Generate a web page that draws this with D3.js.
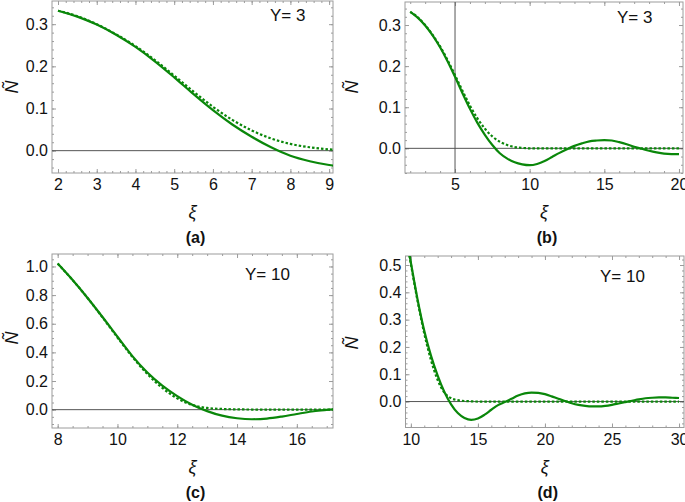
<!DOCTYPE html>
<html>
<head>
<meta charset="utf-8">
<script src="https://cdn.jsdelivr.net/npm/d3@7"></script>
<style>
  body { margin: 0; background: #fff; }
  svg { display: block; }
  text { font-family: "Liberation Sans", Arial, sans-serif; }
</style>
</head>
<body>
<svg id="chart" width="685" height="502"></svg>
<script>
// Y = 3 curves (panels a and b)
const xiY3 = [2, 2.5, 3, 3.5, 4, 4.5, 5, 5.5, 6, 6.5, 7, 7.5, 8, 8.5, 9, 9.5, 10, 10.5, 11, 11.5,
  12, 12.5, 13, 13.5, 14, 14.5, 15, 15.5, 16, 16.5, 17, 17.5, 18, 18.5, 19, 19.5, 20];
const nSolidY3 = [0.332, 0.318, 0.299, 0.275, 0.246, 0.212, 0.174, 0.134, 0.096, 0.062, 0.033, 0.008,
  -0.012, -0.025, -0.034, -0.039, -0.041, -0.038, -0.031, -0.021, -0.011, -0.002, 0.006, 0.012,
  0.017, 0.019, 0.020, 0.019, 0.015, 0.010, 0.004, -0.001, -0.006, -0.010, -0.013, -0.014, -0.014];
const nDashedY3 = [0.332, 0.319, 0.300, 0.276, 0.248, 0.215, 0.178, 0.140, 0.104, 0.073, 0.048, 0.029,
  0.016, 0.008, 0.003, 0.001, 0, 0, 0, 0, 0, 0, 0, 0, 0, 0, 0, 0, 0, 0, 0, 0, 0, 0, 0, 0, 0];

// Y = 10 curves (panels c and d)
const xiY10 = [8, 8.5, 9, 9.5, 10, 10.5, 11, 11.5, 12, 12.5, 13, 13.5, 14, 14.5, 15, 15.5, 16, 16.5,
  17, 17.5, 18, 18.5, 19, 19.5, 20, 20.5, 21, 21.5, 22, 22.5, 23, 23.5, 24, 24.5, 25, 25.5, 26,
  26.5, 27, 27.5, 28, 28.5, 29, 29.5, 30];
const nSolidY10 = [1.02, 0.905, 0.78, 0.647, 0.509, 0.374, 0.259, 0.168, 0.095, 0.035, -0.01, -0.042,
  -0.06, -0.067, -0.062, -0.048, -0.03, -0.013, -0.002, 0.01, 0.022, 0.03, 0.033, 0.032, 0.027,
  0.019, 0.01, 0.002, -0.006, -0.012, -0.016, -0.018, -0.018, -0.016, -0.012, -0.007, -0.002,
  0.003, 0.008, 0.012, 0.014, 0.015, 0.015, 0.014, 0.013];
const nDashedY10 = [1.02, 0.905, 0.78, 0.644, 0.504, 0.368, 0.249, 0.152, 0.079, 0.033, 0.012, 0.005,
  0.002, 0.001, 0, 0, 0, 0, 0, 0, 0, 0, 0, 0, 0, 0, 0, 0, 0, 0, 0, 0, 0, 0, 0, 0, 0, 0, 0, 0, 0,
  0, 0, 0, 0];

// tick values
const xTicksA = [2, 3, 4, 5, 6, 7, 8, 9];
const xTicksB = [5, 10, 15, 20];
const xTicksC = [8, 10, 12, 14, 16];
const xTicksD = [10, 15, 20, 25, 30];
const yTicksAB = [0, 0.1, 0.2, 0.3];
const yTicksC = [0, 0.2, 0.4, 0.6, 0.8, 1.0];
const yTicksD = [0, 0.1, 0.2, 0.3, 0.4, 0.5];

const panelLabels = ['(a)', '(b)', '(c)', '(d)'];
const yLabels = ['Y= 3', 'Y= 3', 'Y= 10', 'Y= 10'];

const svg = d3.select('#chart');
const green = '#0a870a';
const frameColor = '#9c9c9c';

const panels = [
  {xi: xiY3, solid: nSolidY3, dashed: nDashedY3, box: [52, 1, 333, 173],
    xDomain: [1.845, 9.1], yDomain: [-0.053, 0.355], xTicks: xTicksA, xMinor: 0.2,
    yTicks: yTicksAB, yMinor: 0.02, xFmt: d3.format('d'), yLabelAt: [12, 87],
    tagAt: [270, 21], vline: null},
  {xi: xiY3, solid: nSolidY3, dashed: nDashedY3, box: [405, 2, 683, 173],
    xDomain: [1.65, 20.27], yDomain: [-0.060, 0.356], xTicks: xTicksB, xMinor: 1,
    yTicks: yTicksAB, yMinor: 0.02, xFmt: d3.format('d'), yLabelAt: [352, 87],
    tagAt: [617, 23], vline: 5},
  {xi: xiY10, solid: nSolidY10, dashed: nDashedY10, box: [52, 254, 333, 428],
    xDomain: [7.81, 17.21], yDomain: [-0.128, 1.087], xTicks: xTicksC, xMinor: 0.5,
    yTicks: yTicksC, yMinor: 0.05, xFmt: d3.format('d'), yLabelAt: [12, 338],
    tagAt: [245, 280], vline: null},
  {xi: xiY10, solid: nSolidY10, dashed: nDashedY10, box: [405.5, 256, 684, 427.5],
    xDomain: [9.6, 30.37], yDomain: [-0.095, 0.533], xTicks: xTicksD, xMinor: 1,
    yTicks: yTicksD, yMinor: 0.02, xFmt: d3.format('d'), yLabelAt: [352, 343],
    tagAt: [600, 282], vline: null}
];

panels.forEach((p, i) => {
  const [x0, y0, x1, y1] = p.box;
  const x = d3.scaleLinear().domain(p.xDomain).range([x0, x1]);
  const y = d3.scaleLinear().domain(p.yDomain).range([y1, y0]);
  const g = svg.append('g');

  const minorRange = (dom, step) => d3.range(Math.ceil(dom[0] / step) * step, dom[1], step)
    .map((v) => +v.toFixed(4));
  const xMinor = minorRange(p.xDomain, p.xMinor);
  const yMinor = minorRange(p.yDomain, p.yMinor);

  // clip
  g.append('clipPath').attr('id', 'clip' + i)
    .append('rect').attr('x', x0).attr('y', y0).attr('width', x1 - x0).attr('height', y1 - y0);

  const addAxis = (axis, tx, ty) => {
    const a = g.append('g').attr('transform', 'translate(' + tx + ',' + ty + ')').call(axis);
    a.select('.domain').remove();
    a.selectAll('line').attr('stroke', frameColor);
    a.selectAll('text').attr('fill', '#111').style('font-size', '16px');
    return a;
  };
  // minor ticks (inward, all four sides)
  addAxis(d3.axisBottom(x).tickValues(xMinor).tickSizeInner(-2).tickSizeOuter(0).tickFormat(''), 0, y1);
  addAxis(d3.axisTop(x).tickValues(xMinor).tickSizeInner(-2).tickSizeOuter(0).tickFormat(''), 0, y0);
  addAxis(d3.axisLeft(y).tickValues(yMinor).tickSizeInner(-2).tickSizeOuter(0).tickFormat(''), x0, 0);
  addAxis(d3.axisRight(y).tickValues(yMinor).tickSizeInner(-2).tickSizeOuter(0).tickFormat(''), x1, 0);

  // major ticks
  addAxis(d3.axisBottom(x).tickValues(p.xTicks).tickSizeInner(-4).tickSizeOuter(0)
    .tickPadding(6).tickFormat(p.xFmt), 0, y1);
  addAxis(d3.axisTop(x).tickValues(p.xTicks).tickSizeInner(-4).tickSizeOuter(0).tickFormat(''), 0, y0);
  addAxis(d3.axisLeft(y).tickValues(p.yTicks).tickSizeInner(-4).tickSizeOuter(0)
    .tickPadding(4).tickFormat(d3.format('.1f')), x0, 0);
  addAxis(d3.axisRight(y).tickValues(p.yTicks).tickSizeInner(-4).tickSizeOuter(0).tickFormat(''), x1, 0);

  // frame
  g.append('rect')
    .attr('x', x0).attr('y', y0).attr('width', x1 - x0).attr('height', y1 - y0)
    .attr('fill', 'none').attr('stroke', frameColor).attr('stroke-width', 1);

  // zero line
  g.append('line')
    .attr('x1', x0).attr('x2', x1).attr('y1', y(0)).attr('y2', y(0))
    .attr('stroke', '#555').attr('stroke-width', 1);
  if (p.vline !== null) {
    g.append('line')
      .attr('x1', x(p.vline)).attr('x2', x(p.vline)).attr('y1', y0).attr('y2', y1)
      .attr('stroke', '#555').attr('stroke-width', 1);
  }

  const pts = (vals) => p.xi.map((v, k) => [v, vals[k]]);
  const line = d3.line().x((d) => x(d[0])).y((d) => y(d[1])).curve(d3.curveMonotoneX);
  const curves = g.append('g').attr('clip-path', 'url(#clip' + i + ')');
  curves.append('path').attr('d', line(pts(p.solid)))
    .attr('fill', 'none').attr('stroke', green).attr('stroke-width', 2.2);
  curves.append('path').attr('d', line(pts(p.dashed)))
    .attr('fill', 'none').attr('stroke', green).attr('stroke-width', 2.2)
    .attr('stroke-dasharray', '2.5,2');

  // parameter tag
  g.append('text').attr('x', p.tagAt[0]).attr('y', p.tagAt[1])
    .style('font-size', '17px').attr('fill', '#111').text(yLabels[i]);

  // axis labels
  g.append('text')
    .attr('transform', 'translate(' + p.yLabelAt[0] + ',' + p.yLabelAt[1] + ') rotate(-90)')
    .attr('text-anchor', 'middle').attr('dominant-baseline', 'central')
    .style('font-size', '18px').style('font-style', 'italic').attr('fill', '#111').text('Ñ');
  const cx = (x0 + x1) / 2;
  g.append('text').attr('x', cx).attr('y', y1 + 45)
    .attr('text-anchor', 'middle')
    .style('font-size', '18px').style('font-style', 'italic').attr('fill', '#111').text('ξ');
  g.append('text').attr('x', cx + 3).attr('y', y1 + 70)
    .attr('text-anchor', 'middle')
    .style('font-size', '16px').style('font-weight', 'bold').attr('fill', '#111').text(panelLabels[i]);
});
</script>
</body>
</html>
